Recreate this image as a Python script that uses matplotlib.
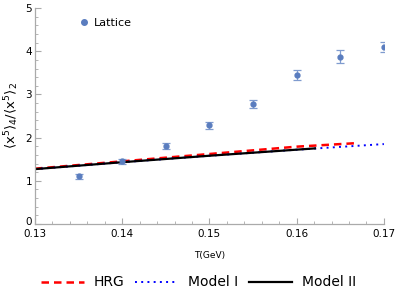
import matplotlib
matplotlib.use('Agg')
import matplotlib.pyplot as plt
from matplotlib.lines import Line2D
from matplotlib.ticker import MultipleLocator, FuncFormatter

# ── Data ─────────────────────────────────────────────
lat_T = [0.135, 0.140, 0.145, 0.150, 0.155, 0.160, 0.165, 0.170]
lat_val = [1.10, 1.45, 1.80, 2.29, 2.78, 3.45, 3.87, 4.10]
lat_err = [0.05, 0.06, 0.07, 0.08, 0.10, 0.12, 0.15, 0.12]

hrg_T = [0.130, 0.140, 0.150, 0.160, 0.1667]
hrg_val = [1.28, 1.45, 1.62, 1.79, 1.87]

m1_T = [0.130, 0.140, 0.150, 0.160, 0.170]
m1_val = [1.27, 1.43, 1.58, 1.72, 1.85]

m2_T = [0.130, 0.140, 0.150, 0.1621]
m2_val = [1.27, 1.43, 1.58, 1.75]

fig = plt.figure(figsize=(3.97, 2.99), dpi=100)
ax = fig.add_axes([0.088, 0.251, 0.879, 0.722])

pt_color = '#5a7dbf'
ax.errorbar(lat_T, lat_val, yerr=lat_err, fmt='o', ms=3.5, color=pt_color,
            ecolor='#7f9bcf', elinewidth=0.9, capsize=3, capthick=0.9, zorder=5)
l1, = ax.plot(hrg_T, hrg_val, color='red', ls=(0, (3, 2)), lw=1.8, label='HRG')
l2, = ax.plot(m1_T, m1_val, color='blue', ls=(0, (1, 2.2)), lw=1.4, label='Model I')
l3, = ax.plot(m2_T, m2_val, color='black', ls='-', lw=1.6, label='Model II')

ax.set_xlim(0.13, 0.17)
ax.set_ylim(0, 5)
ax.xaxis.set_major_locator(MultipleLocator(0.01))
ax.xaxis.set_minor_locator(MultipleLocator(0.002))
ax.yaxis.set_major_locator(MultipleLocator(1))
ax.yaxis.set_minor_locator(MultipleLocator(0.2))
ax.set_xticks([0.13, 0.14, 0.15, 0.16, 0.17])
ax.set_xticklabels(['0.13', '0.14', '0.15', '0.16', '0.17'])
# the "0" on y is placed by hand below, slightly lifted off the x labels
ax.yaxis.set_major_formatter(FuncFormatter(lambda v, p: '' if v == 0 else f'{v:g}'))

for s in ['top', 'right']:
    ax.spines[s].set_visible(False)
for s in ['left', 'bottom']:
    ax.spines[s].set_color('#aaaaaa')
    ax.spines[s].set_linewidth(0.9)
ax.tick_params(which='both', direction='in', color='#aaaaaa', labelsize=7.5)
ax.tick_params(axis='x', pad=3.5)
ax.tick_params(axis='y', pad=2)
ax.tick_params(which='major', length=4)
ax.tick_params(which='minor', length=2)
ax.annotate('0', xy=(0, 0), xycoords='axes fraction', xytext=(-2, 1.5),
            textcoords='offset points', ha='right', va='center', fontsize=7.5)

ax.set_xlabel('T(GeV)', fontsize=6.5, labelpad=9)
ax.set_ylabel(r'$\langle \mathrm{x}^5\rangle_4/\langle \mathrm{x}^5\rangle_2$',
              fontsize=9.5, labelpad=3)

lat_handle = Line2D([], [], ls='none', marker='o', ms=4, color=pt_color)
ax.legend(handles=[lat_handle], labels=['Lattice'], loc='upper left',
          bbox_to_anchor=(0.095, 1.0), frameon=False, fontsize=8,
          handletextpad=0.4, handlelength=1.0)

fig.legend(handles=[l1, l2, l3], loc='lower center', bbox_to_anchor=(0.5, -0.01),
           ncol=3, frameon=False, fontsize=10, handlelength=3.1,
           columnspacing=0.8, handletextpad=0.7)

fig.savefig('out.png', dpi=100)
